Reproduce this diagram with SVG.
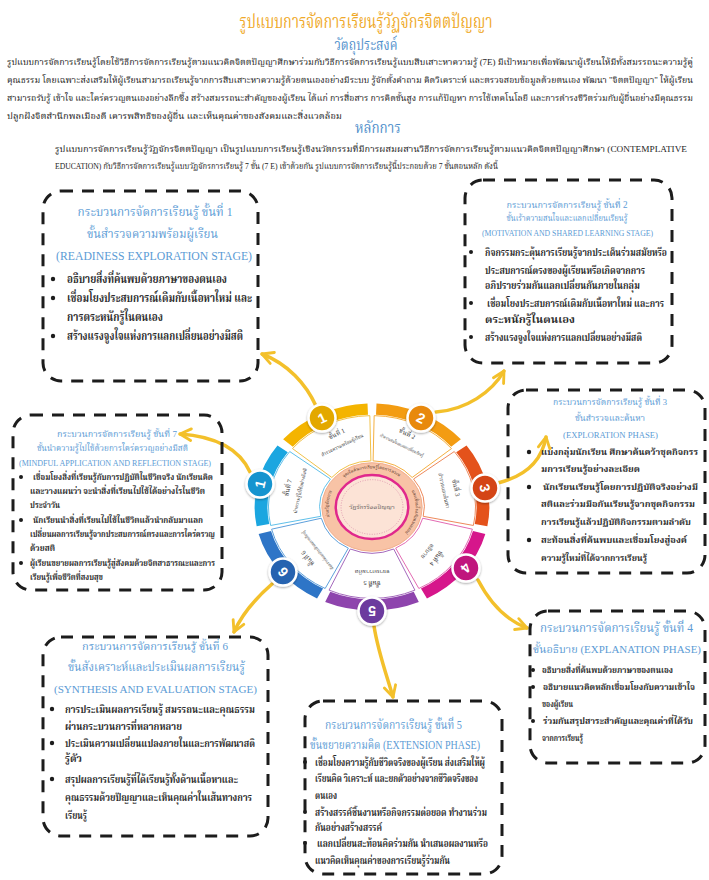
<svg xmlns="http://www.w3.org/2000/svg" width="709" height="880" viewBox="0 0 709 880">
<defs>
<style>
text{font-family:'Liberation Serif','Noto Serif Thai','Noto Sans Thai',serif}
.h1{fill:#EFA928;font-size:20px}
.h2{fill:#4F8FCB;font-size:16px}
.p{fill:#222;font-size:8.8px}
.tt{fill:#5B9BD5}
.b{fill:#2b2b2b;font-weight:bold}
.box{fill:none;stroke:#1c1c1c;stroke-width:3;stroke-dasharray:12 9}
.dot{fill:#1c1c1c}
.arr{fill:none;stroke:#F3C02B;stroke-width:3.5;stroke-linecap:round;marker-end:url(#ah)}
.wl{fill:#fff;stroke-width:1;vector-effect:non-scaling-stroke}
.ring{fill:none;stroke-width:12}
.num{fill:#fff;font-family:'Liberation Sans',sans-serif;font-weight:bold;font-size:14px;text-anchor:middle}
.nc{stroke:#fff;stroke-width:2.5;filter:url(#sh)}
.wt{fill:#333;text-anchor:middle}
.ct{font-size:4.3px;fill:#4a2a1a}
</style>
<marker id="ah" viewBox="0 0 10 10" refX="8.5" refY="5" markerWidth="4.5" markerHeight="4.5" orient="auto" markerUnits="strokeWidth">
<path d="M1.5,1.3 L8.5,5 L1.5,8.7" fill="none" stroke="#F3C02B" stroke-width="1.8" stroke-linecap="round" stroke-linejoin="round"/>
</marker>
<filter id="sh" x="-30%" y="-30%" width="160%" height="160%">
<feDropShadow dx="0" dy="1" stdDeviation="1.2" flood-opacity="0.35"/>
</filter>
</defs>
<rect width="709" height="880" fill="#fff"/>

<g id="header">
<text class="h1" x="366" y="28" text-anchor="middle" textLength="253" lengthAdjust="spacingAndGlyphs">รูปแบบการจัดการเรียนรู้วัฏจักรจิตตปัญญา</text>
<text class="h2" x="366" y="50" text-anchor="middle" textLength="63" lengthAdjust="spacingAndGlyphs">วัตถุประสงค์</text>
<text class="p" x="7" y="65" textLength="686" lengthAdjust="spacingAndGlyphs">รูปแบบการจัดการเรียนรู้โดยใช้วิธีการจัดการเรียนรู้ตามแนวคิดจิตตปัญญาศึกษาร่วมกับวิธีการจัดการเรียนรู้แบบสืบเสาะหาความรู้ (7E) มีเป้าหมายเพื่อพัฒนาผู้เรียนให้มีทั้งสมรรถนะความรู้คู่</text>
<text class="p" x="7" y="83" textLength="686" lengthAdjust="spacingAndGlyphs">คุณธรรม โดยเฉพาะส่งเสริมให้ผู้เรียนสามารถเรียนรู้จากการสืบเสาะหาความรู้ด้วยตนเองอย่างมีระบบ รู้จักตั้งคำถาม คิดวิเคราะห์ และตรวจสอบข้อมูลด้วยตนเอง พัฒนา "จิตตปัญญา" ให้ผู้เรียน</text>
<text class="p" x="7" y="101" textLength="686" lengthAdjust="spacingAndGlyphs">สามารถรับรู้ เข้าใจ และใคร่ครวญตนเองอย่างลึกซึ้ง สร้างสมรรถนะสำคัญของผู้เรียน ได้แก่ การสื่อสาร การคิดขั้นสูง การแก้ปัญหา การใช้เทคโนโลยี และการดำรงชีวิตร่วมกับผู้อื่นอย่างมีคุณธรรม</text>
<text class="p" x="7" y="119" textLength="335" lengthAdjust="spacingAndGlyphs">ปลูกฝังจิตสำนึกพลเมืองดี เคารพสิทธิของผู้อื่น และเห็นคุณค่าของสังคมและสิ่งแวดล้อม</text>
<text class="h2" x="378" y="133" text-anchor="middle" style="font-size:15px" textLength="46" lengthAdjust="spacingAndGlyphs">หลักการ</text>
<text class="p" x="55" y="152" textLength="632" lengthAdjust="spacingAndGlyphs">รูปแบบการจัดการเรียนรู้วัฏจักรจิตตปัญญา เป็นรูปแบบการเรียนรู้เชิงนวัตกรรมที่มีการผสมผสานวิธีการจัดการเรียนรู้ตามแนวคิดจิตตปัญญาศึกษา (CONTEMPLATIVE</text>
<text class="p" x="55" y="169" textLength="443" lengthAdjust="spacingAndGlyphs">EDUCATION) กับวิธีการจัดการเรียนรู้แบบวัฏจักรการเรียนรู้ 7 ขั้น (7 E) เข้าด้วยกัน รูปแบบการจัดการเรียนรู้นี้ประกอบด้วย 7 ขั้นตอนหลัก ดังนี้</text>
</g>

<g id="connectors">
<path class="arr" d="M316,406 C306,384 288,364 262,354"/>
<path class="arr" d="M436,412 C466,410 492,392 504,371"/>
<path class="arr" d="M498,483 C526,476 542,460 546,437"/>
<path class="arr" d="M478,580 C490,603 506,620 527,628"/>
<path class="arr" d="M374,626 C378,652 387,676 393,697"/>
<path class="arr" d="M272,584 C256,598 242,614 234,632"/>
<path class="arr" d="M250,472 C238,446 210,436 180,434"/>
</g>

<g id="wheel">
<g transform="translate(372,507) scale(1.067,0.942)">
<path class="wl" stroke="#F1C24A" d="M-37.66,-31.35 L-74.55,-62.05 A97,97 0 0 1 -2.03,-96.98 L-1.03,-48.99 A49,49 0 0 0 -37.66,-31.35 Z"/>
<path class="wl" stroke="#F5B041" d="M1.03,-48.99 L2.03,-96.98 A97,97 0 0 1 74.55,-62.05 L37.66,-31.35 A49,49 0 0 0 1.03,-48.99 Z"/>
<path class="wl" stroke="#EE8A5C" d="M38.95,-29.74 L77.10,-58.88 A97,97 0 0 1 95.00,19.60 L47.99,9.90 A49,49 0 0 0 38.95,-29.74 Z"/>
<path class="wl" stroke="#E36BB3" d="M47.53,11.90 L94.09,23.56 A97,97 0 0 1 43.90,86.49 L22.18,43.69 A49,49 0 0 0 47.53,11.90 Z"/>
<path class="wl" stroke="#A569BD" d="M20.33,44.59 L40.24,88.26 A97,97 0 0 1 -40.24,88.26 L-20.33,44.59 A49,49 0 0 0 20.33,44.59 Z"/>
<path class="wl" stroke="#5DA0DC" d="M-22.18,43.69 L-43.90,86.49 A97,97 0 0 1 -94.09,23.56 L-47.53,11.90 A49,49 0 0 0 -22.18,43.69 Z"/>
<path class="wl" stroke="#5FC0EA" d="M-47.99,9.90 L-95.00,19.60 A97,97 0 0 1 -77.10,-58.88 L-38.95,-29.74 A49,49 0 0 0 -47.99,9.90 Z"/>
<path class="ring" stroke="#F4B400" d="M-78.76,-67.92 A104,104 0 0 1 -3.99,-103.92"/>
<path class="ring" stroke="#F39C12" d="M3.99,-103.92 A104,104 0 0 1 78.76,-67.92"/>
<path class="ring" stroke="#E4521B" d="M83.75,-61.68 A104,104 0 0 1 102.20,19.24"/>
<path class="ring" stroke="#D6168B" d="M100.43,27.02 A104,104 0 0 1 48.69,91.90"/>
<path class="ring" stroke="#8E44AD" d="M41.49,95.37 A104,104 0 0 1 -41.49,95.37"/>
<path class="ring" stroke="#2E75C7" d="M-48.69,91.90 A104,104 0 0 1 -100.43,27.02"/>
<path class="ring" stroke="#1BA6E0" d="M-102.20,19.24 A104,104 0 0 1 -83.75,-61.68"/>
<circle r="47" fill="#F8C3A6" stroke="#F2AE8C" stroke-width="1" vector-effect="non-scaling-stroke"/>
<circle r="34" fill="#FCE3D6" stroke="#E0288C" stroke-width="2.5" vector-effect="non-scaling-stroke"/>
<circle r="29" fill="none" stroke="#D98CA8" stroke-width="0.8" stroke-dasharray="1 1.5" vector-effect="non-scaling-stroke"/>
</g>
<g transform="translate(343.9,477.4)">
<path id="cpa" d="M0,0 A43.7,38.6 0 0 1 56.2,0" fill="none"/>
<text class="ct"><textPath href="#cpa">จุดเริ่มต้นการเรียนรู้โดยการตระหนักรู้</textPath></text>
</g>
<g transform="translate(405.5,531.8)">
<path id="cpb" d="M6.1,-41.1 A43.7,38.6 0 0 1 0,0" fill="none"/>
<text class="ct"><textPath href="#cpb">และเชื่อมโยงกับตนเองอย่างลึกซึ้ง</textPath></text>
</g>
<g transform="translate(329.8,517)">
<path id="cpc" d="M0,0 A43.7,38.6 0 0 1 2.6,-26.3" fill="none"/>
<text class="ct"><textPath href="#cpc">ผ่านวัฏจักรการเรียนรู้อย่างมีสติ</textPath></text>
</g>
<text x="372" y="509" text-anchor="middle" style="font-size:6px;fill:#555">วัฏจักรจิตตปัญญา</text>

<g id="seg1" transform="translate(372,507) rotate(334.29)">
<text class="wt" y="-79" style="font-size:6.5px">ขั้นที่ 1</text>
<text class="wt" y="-67" style="font-size:5px" textLength="46" lengthAdjust="spacingAndGlyphs">สำรวจความพร้อมผู้เรียน</text>
</g>
<g id="seg2" transform="translate(372,507) rotate(25.71)">
<text class="wt" y="-79" style="font-size:6.5px">ขั้นที่ 2</text>
<text class="wt" y="-67" style="font-size:4.5px" textLength="48" lengthAdjust="spacingAndGlyphs">เร้าความสนใจและแลกเปลี่ยนเรียนรู้</text>
</g>
<g id="seg3" transform="translate(372,507) rotate(77.14)">
<text class="wt" y="-84" style="font-size:6.5px">ขั้นที่ 3</text>
<text class="wt" y="-72" style="font-size:5.5px" textLength="36" lengthAdjust="spacingAndGlyphs">สำรวจและค้นหา</text>
</g>
<g id="seg4" transform="translate(372,507) rotate(128.57)">
<text class="wt" y="-80" style="font-size:6.5px">ขั้นที่ 4</text>
<text class="wt" y="-69" style="font-size:6px">อธิบาย</text>
</g>
<g id="seg5" transform="translate(372,507) rotate(180)">
<text class="wt" y="-74" style="font-size:6.5px">ขั้นที่ 5</text>
<text class="wt" y="-63" style="font-size:6px">ขยายความคิด</text>
</g>
<g id="seg6" transform="translate(372,507) rotate(231.43)">
<text class="wt" y="-80" style="font-size:6.5px">ขั้นที่ 6</text>
<text class="wt" y="-68" style="font-size:4.5px" textLength="48" lengthAdjust="spacingAndGlyphs">สังเคราะห์และประเมินผลการเรียนรู้</text>
</g>
<g id="seg7" transform="translate(372,507) rotate(282.86)">
<text class="wt" y="-84" style="font-size:6.5px">ขั้นที่ 7</text>
<text class="wt" y="-72" style="font-size:4.8px" textLength="46" lengthAdjust="spacingAndGlyphs">นำความรู้ไปใช้อย่างมีสติ</text>
</g>

<g id="n1"><circle class="nc" cx="322" cy="418" r="13.5" fill="#E3A800"/><text class="num" x="322" y="423" transform="rotate(334 322 418)">1</text></g>
<g id="n2"><circle class="nc" cx="421" cy="418" r="13.5" fill="#E8890C"/><text class="num" x="421" y="423" transform="rotate(26 421 418)">2</text></g>
<g id="n3"><circle class="nc" cx="485" cy="488" r="13.5" fill="#D44414"/><text class="num" x="485" y="493" transform="rotate(77 485 488)">3</text></g>
<g id="n4"><circle class="nc" cx="466" cy="568" r="13.5" fill="#C0127D"/><text class="num" x="466" y="573" transform="rotate(129 466 568)">4</text></g>
<g id="n5"><circle class="nc" cx="372" cy="611" r="13.5" fill="#6C3A9E"/><text class="num" x="372" y="616" transform="rotate(180 372 611)">5</text></g>
<g id="n6"><circle class="nc" cx="283" cy="572" r="13.5" fill="#2563B0"/><text class="num" x="283" y="577" transform="rotate(231 283 572)">6</text></g>
<g id="n7"><circle class="nc" cx="260" cy="484" r="13.5" fill="#1594CF"/><text class="num" x="260" y="489" transform="rotate(283 260 484)">1</text></g>
</g>

<g id="box1">
<rect class="box" x="43" y="191" width="215" height="190" rx="18"/>
<text class="tt" x="155" y="216" text-anchor="middle" style="font-size:12.5px" textLength="155" lengthAdjust="spacingAndGlyphs">กระบวนการจัดการเรียนรู้ ขั้นที่ 1</text>
<text class="tt" x="152.5" y="238" text-anchor="middle" style="font-size:12.5px" textLength="131" lengthAdjust="spacingAndGlyphs">ขั้นสำรวจความพร้อมผู้เรียน</text>
<text class="tt" x="154" y="260" text-anchor="middle" style="font-size:12.5px" textLength="196" lengthAdjust="spacingAndGlyphs">(READINESS EXPLORATION STAGE)</text>
<circle class="dot" cx="53" cy="279" r="2.2"/><circle class="dot" cx="53" cy="298" r="2.2"/><circle class="dot" cx="53" cy="336" r="2.2"/>
<text class="b" x="67" y="283" style="font-size:12px" textLength="160" lengthAdjust="spacingAndGlyphs">อธิบายสิ่งที่ค้นพบด้วยภาษาของตนเอง</text>
<text class="b" x="67" y="302" style="font-size:12px" textLength="185" lengthAdjust="spacingAndGlyphs">เชื่อมโยงประสบการณ์เดิมกับเนื้อหาใหม่ และ</text>
<text class="b" x="67" y="321" style="font-size:12px" textLength="96" lengthAdjust="spacingAndGlyphs">การตระหนักรู้ในตนเอง</text>
<text class="b" x="67" y="340" style="font-size:12px" textLength="176" lengthAdjust="spacingAndGlyphs">สร้างแรงจูงใจแห่งการแลกเปลี่ยนอย่างมีสติ</text>
</g>

<g id="box2">
<rect class="box" x="465" y="180" width="207" height="183" rx="18"/>
<text class="tt" x="567" y="207.5" text-anchor="middle" style="font-size:9.5px" textLength="121" lengthAdjust="spacingAndGlyphs">กระบวนการจัดการเรียนรู้ ขั้นที่ 2</text>
<text class="tt" x="567" y="221" text-anchor="middle" style="font-size:9px" textLength="121" lengthAdjust="spacingAndGlyphs">ขั้นเร้าความสนใจและแลกเปลี่ยนเรียนรู้</text>
<text class="tt" x="567.5" y="235.5" text-anchor="middle" style="font-size:7.5px" textLength="171" lengthAdjust="spacingAndGlyphs">(MOTIVATION AND SHARED LEARNING STAGE)</text>
<circle class="dot" cx="471" cy="252" r="2"/><circle class="dot" cx="471" cy="303" r="2"/><circle class="dot" cx="471" cy="337" r="2"/>
<text class="b" x="485" y="255.5" style="font-size:10px" textLength="182" lengthAdjust="spacingAndGlyphs">กิจกรรมกระตุ้นการเรียนรู้จากประเด็นร่วมสมัยหรือ</text>
<text class="b" x="485" y="273.5" style="font-size:10px" textLength="160" lengthAdjust="spacingAndGlyphs">ประสบการณ์ตรงของผู้เรียนหรือเกิดจากการ</text>
<text class="b" x="485" y="288.5" style="font-size:10px" textLength="155" lengthAdjust="spacingAndGlyphs">อภิปรายร่วมกันแลกเปลี่ยนกันภายในกลุ่ม</text>
<text class="b" x="487" y="306.5" style="font-size:10px" textLength="177" lengthAdjust="spacingAndGlyphs">เชื่อมโยงประสบการณ์เดิมกับเนื้อหาใหม่ และการ</text>
<text class="b" x="485" y="322.5" style="font-size:10px" textLength="90" lengthAdjust="spacingAndGlyphs">ตระหนักรู้ในตนเอง</text>
<text class="b" x="485" y="340.5" style="font-size:10px" textLength="157" lengthAdjust="spacingAndGlyphs">สร้างแรงจูงใจแห่งการแลกเปลี่ยนอย่างมีสติ</text>
</g>

<g id="box3">
<rect class="box" x="508" y="390" width="197" height="183" rx="18"/>
<text class="tt" x="610" y="405" text-anchor="middle" style="font-size:9px" textLength="114" lengthAdjust="spacingAndGlyphs">กระบวนการจัดการเรียนรู้ ขั้นที่ 3</text>
<text class="tt" x="610" y="421" text-anchor="middle" style="font-size:9px" textLength="70" lengthAdjust="spacingAndGlyphs">ขั้นสำรวจและค้นหา</text>
<text class="tt" x="610.5" y="438" text-anchor="middle" style="font-size:9px" textLength="95" lengthAdjust="spacingAndGlyphs">(EXPLORATION PHASE)</text>
<circle class="dot" cx="529" cy="452" r="2.2"/><circle class="dot" cx="529" cy="487" r="2.2"/><circle class="dot" cx="529" cy="540" r="2.2"/>
<text class="b" x="541" y="455.3" style="font-size:9.3px" textLength="157" lengthAdjust="spacingAndGlyphs">แบ่งกลุ่มนักเรียน ศึกษาค้นคว้าชุดกิจกรร</text>
<text class="b" x="541" y="472.3" style="font-size:9.3px" textLength="99" lengthAdjust="spacingAndGlyphs">มการเรียนรู้อย่างละเอียด</text>
<text class="b" x="543" y="490.3" style="font-size:9.3px" textLength="155" lengthAdjust="spacingAndGlyphs">นักเรียนเรียนรู้โดยการปฏิบัติจริงอย่างมี</text>
<text class="b" x="541" y="507.3" style="font-size:9.3px" textLength="154" lengthAdjust="spacingAndGlyphs">สติและร่วมมือกันเรียนรู้จากชุดกิจกรรม</text>
<text class="b" x="541" y="525.3" style="font-size:9.3px" textLength="150" lengthAdjust="spacingAndGlyphs">การเรียนรู้แล้วปฏิบัติกิจกรรมตามลำดับ</text>
<text class="b" x="541" y="543.3" style="font-size:9.3px" textLength="146" lengthAdjust="spacingAndGlyphs">สะท้อนสิ่งที่ค้นพบและเชื่อมโยงสู่องค์</text>
<text class="b" x="541" y="561.3" style="font-size:9.3px" textLength="106" lengthAdjust="spacingAndGlyphs">ความรู้ใหม่ที่ได้จากการเรียนรู้</text>
</g>

<g id="box4">
<rect class="box" x="530" y="611" width="175" height="152" rx="18"/>
<text class="tt" x="616.5" y="632" text-anchor="middle" style="font-size:11.5px" textLength="153" lengthAdjust="spacingAndGlyphs">กระบวนการจัดการเรียนรู้ ขั้นที่ 4</text>
<text class="tt" x="617" y="653" text-anchor="middle" style="font-size:11px" textLength="168" lengthAdjust="spacingAndGlyphs">ขั้นอธิบาย (EXPLANATION PHASE)</text>
<circle class="dot" cx="533" cy="670" r="2"/><circle class="dot" cx="533" cy="687" r="2"/><circle class="dot" cx="533" cy="721" r="2"/>
<text class="b" x="542" y="673.3" style="font-size:9px" textLength="131" lengthAdjust="spacingAndGlyphs">อธิบายสิ่งที่ค้นพบด้วยภาษาของตนเอง</text>
<text class="b" x="543" y="690.3" style="font-size:8.8px" textLength="152" lengthAdjust="spacingAndGlyphs">อธิบายแนวคิดหลักเชื่อมโยงกับความเข้าใจ</text>
<text class="b" x="542" y="707.3" style="font-size:9px" textLength="31" lengthAdjust="spacingAndGlyphs">ของผู้เรียน</text>
<text class="b" x="543" y="724.3" style="font-size:9px" textLength="150" lengthAdjust="spacingAndGlyphs">ร่วมกันสรุปสาระสำคัญและคุณค่าที่ได้รับ</text>
<text class="b" x="542" y="741.3" style="font-size:9px" textLength="41" lengthAdjust="spacingAndGlyphs">จากการเรียนรู้</text>
</g>

<g id="box5">
<rect class="box" x="305" y="701" width="197" height="173" rx="18"/>
<text class="tt" x="393.5" y="729" text-anchor="middle" style="font-size:11.5px" textLength="137" lengthAdjust="spacingAndGlyphs">กระบวนการจัดการเรียนรู้ ขั้นที่ 5</text>
<text class="tt" x="395" y="749" text-anchor="middle" style="font-size:11.5px" textLength="170" lengthAdjust="spacingAndGlyphs">ขั้นขยายความคิด (EXTENSION PHASE)</text>
<circle class="dot" cx="305" cy="762" r="2"/><circle class="dot" cx="305" cy="812" r="2"/><circle class="dot" cx="305" cy="843" r="2"/>
<text class="b" x="315" y="765.5" style="font-size:10px" textLength="170" lengthAdjust="spacingAndGlyphs">เชื่อมโยงความรู้กับชีวิตจริงของผู้เรียน ส่งเสริมให้ผู้</text>
<text class="b" x="315" y="781.5" style="font-size:10px" textLength="163" lengthAdjust="spacingAndGlyphs">เรียนคิด วิเคราะห์ และยกตัวอย่างจากชีวิตจริงของ</text>
<text class="b" x="315" y="798.5" style="font-size:10px" textLength="22" lengthAdjust="spacingAndGlyphs">ตนเอง</text>
<text class="b" x="315" y="815.5" style="font-size:10px" textLength="172" lengthAdjust="spacingAndGlyphs">สร้างสรรค์ชิ้นงานหรือกิจกรรมต่อยอด ทำงานร่วม</text>
<text class="b" x="315" y="830.5" style="font-size:10px" textLength="67" lengthAdjust="spacingAndGlyphs">กันอย่างสร้างสรรค์</text>
<text class="b" x="317" y="846.5" style="font-size:10px" textLength="171" lengthAdjust="spacingAndGlyphs">แลกเปลี่ยนสะท้อนคิดร่วมกัน นำเสนอผลงานหรือ</text>
<text class="b" x="315" y="863.5" style="font-size:10px" textLength="135" lengthAdjust="spacingAndGlyphs">แนวคิดเห็นคุณค่าของการเรียนรู้ร่วมกัน</text>
</g>

<g id="box6">
<rect class="box" x="43" y="637" width="225" height="199" rx="18"/>
<text class="tt" x="155" y="650" text-anchor="middle" style="font-size:11px" textLength="146" lengthAdjust="spacingAndGlyphs">กระบวนการจัดการเรียนรู้ ขั้นที่ 6</text>
<text class="tt" x="156.5" y="671" text-anchor="middle" style="font-size:11.5px" textLength="177" lengthAdjust="spacingAndGlyphs">ขั้นสังเคราะห์และประเมินผลการเรียนรู้</text>
<text class="tt" x="155.5" y="693" text-anchor="middle" style="font-size:11px" textLength="203" lengthAdjust="spacingAndGlyphs">(SYNTHESIS AND EVALUATION STAGE)</text>
<circle class="dot" cx="52" cy="709" r="2.2"/><circle class="dot" cx="52" cy="743" r="2.2"/><circle class="dot" cx="52" cy="779" r="2.2"/>
<text class="b" x="65" y="712.5" style="font-size:10.5px" textLength="190" lengthAdjust="spacingAndGlyphs">การประเมินผลการเรียนรู้ สมรรถนะและคุณธรรม</text>
<text class="b" x="65" y="729.5" style="font-size:10.5px" textLength="117" lengthAdjust="spacingAndGlyphs">ผ่านกระบวนการที่หลากหลาย</text>
<text class="b" x="65" y="746.5" style="font-size:10.5px" textLength="190" lengthAdjust="spacingAndGlyphs">ประเมินความเปลี่ยนแปลงภายในและการพัฒนาสติ</text>
<text class="b" x="65" y="762" style="font-size:10.5px" textLength="17" lengthAdjust="spacingAndGlyphs">รู้ตัว</text>
<text class="b" x="65" y="782.5" style="font-size:10.5px" textLength="173" lengthAdjust="spacingAndGlyphs">สรุปผลการเรียนรู้ที่ได้เรียนรู้ทั้งด้านเนื้อหาและ</text>
<text class="b" x="65" y="800.5" style="font-size:10.5px" textLength="187" lengthAdjust="spacingAndGlyphs">คุณธรรมด้วยปัญญาและเห็นคุณค่าในเส้นทางการ</text>
<text class="b" x="65" y="818.5" style="font-size:10.5px" textLength="22" lengthAdjust="spacingAndGlyphs">เรียนรู้</text>
</g>

<g id="box7">
<rect class="box" x="13" y="415" width="209" height="175" rx="18"/>
<text class="tt" x="117" y="437" text-anchor="middle" style="font-size:8.5px" textLength="120" lengthAdjust="spacingAndGlyphs">กระบวนการจัดการเรียนรู้ ขั้นที่ 7</text>
<text class="tt" x="112.5" y="451" text-anchor="middle" style="font-size:8.5px" textLength="151" lengthAdjust="spacingAndGlyphs">ขั้นนำความรู้ไปใช้ด้วยการใคร่ครวญอย่างมีสติ</text>
<text class="tt" x="115" y="465.5" text-anchor="middle" style="font-size:7.5px" textLength="192" lengthAdjust="spacingAndGlyphs">(MINDFUL APPLICATION AND REFLECTION STAGE)</text>
<circle class="dot" cx="21" cy="477" r="2"/><circle class="dot" cx="21" cy="520" r="2"/><circle class="dot" cx="21" cy="563" r="2"/>
<text class="b" x="33" y="480" style="font-size:9px" textLength="180" lengthAdjust="spacingAndGlyphs">เชื่อมโยงสิ่งที่เรียนรู้กับการปฏิบัติในชีวิตจริง นักเรียนคิด</text>
<text class="b" x="30" y="494" style="font-size:9px" textLength="175" lengthAdjust="spacingAndGlyphs">และวางแผนว่า จะนำสิ่งที่เรียนไปใช้ได้อย่างไรในชีวิต</text>
<text class="b" x="30" y="508" style="font-size:9px" textLength="30" lengthAdjust="spacingAndGlyphs">ประจำวัน</text>
<text class="b" x="33" y="523" style="font-size:9px" textLength="170" lengthAdjust="spacingAndGlyphs">นักเรียนนำสิ่งที่เรียนไปใช้ในชีวิตแล้วนำกลับมาแลก</text>
<text class="b" x="30" y="537" style="font-size:9px" textLength="185" lengthAdjust="spacingAndGlyphs">เปลี่ยนผลการเรียนรู้จากประสบการณ์ตรงและการใคร่ครวญ</text>
<text class="b" x="30" y="551" style="font-size:9px" textLength="25" lengthAdjust="spacingAndGlyphs">ด้วยสติ</text>
<text class="b" x="30" y="566" style="font-size:9px" textLength="185" lengthAdjust="spacingAndGlyphs">ผู้เรียนขยายผลการเรียนรู้สู่สังคมด้วยจิตสาธารณะและการ</text>
<text class="b" x="30" y="580" style="font-size:9px" textLength="73" lengthAdjust="spacingAndGlyphs">เรียนรู้เพื่อชีวิตที่สงบสุข</text>
</g>
</svg>
